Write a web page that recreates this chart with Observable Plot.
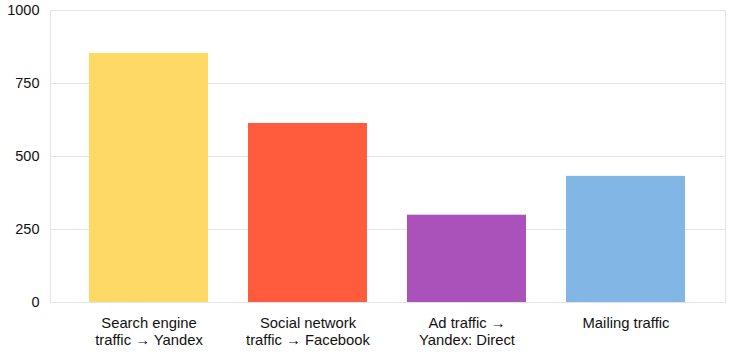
<!DOCTYPE html>
<html>
<head>
<meta charset="utf-8">
<script src="https://cdn.jsdelivr.net/npm/d3@7"></script>
<script src="https://cdn.jsdelivr.net/npm/@observablehq/plot@0.6"></script>
<style>
  html, body { margin: 0; padding: 0; background: #fff; }
  svg { display: block; }
</style>
</head>
<body>
<div id="chart"></div>
<script>
const categories = [
  "Search engine\ntraffic → Yandex",
  "Social network\ntraffic → Facebook",
  "Ad traffic →\nYandex: Direct",
  "Mailing traffic"
];
const values = [853, 613, 299, 432];
const colors = ["#ffd966", "#ff5c3e", "#aa52ba", "#82b6e4"];
const yTicks = [0, 250, 500, 750, 1000];

const data = categories.map((c, i) => ({category: c, value: values[i]}));

const chart = Plot.plot({
  width: 729,
  height: 356,
  marginLeft: 50,
  marginRight: 4,
  marginTop: 10,
  marginBottom: 54,
  style: {fontFamily: "'Liberation Sans', Arial, sans-serif", color: "#111", background: "#fff"},
  x: {domain: categories, paddingInner: 0.25, paddingOuter: 0.24, label: null},
  y: {domain: [0, 1000], ticks: yTicks, label: null},
  color: {domain: categories, range: colors},
  marks: [
    Plot.gridY(yTicks, {stroke: "#e4e4e4", strokeOpacity: 1}),
    Plot.frame({stroke: "#e4e4e4"}),
    Plot.barY(data, {x: "category", y: "value", fill: "category"}),
    Plot.axisY(yTicks, {tickSize: 0, tickPadding: 11, fontSize: 14.5, fill: "#111", tickFormat: d => String(d)}),
    Plot.axisX({tickSize: 0, tickPadding: 13, fontSize: 14.8, lineHeight: 1.17, fill: "#111"})
  ]
});
document.getElementById("chart").appendChild(chart);
</script>
</body>
</html>
